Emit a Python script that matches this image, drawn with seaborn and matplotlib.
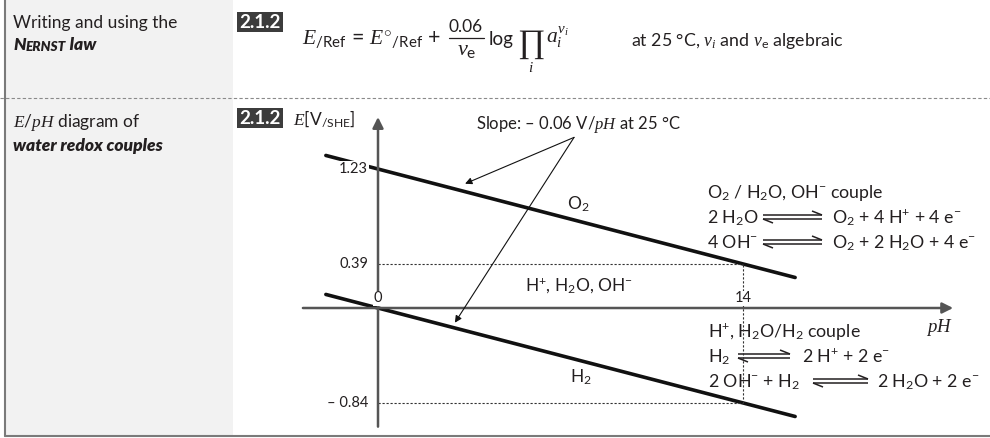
import matplotlib
matplotlib.use("Agg")
import matplotlib.pyplot as plt
from matplotlib.patches import Rectangle
import pandas as pd
import seaborn as sns

# values
ph_ends = [-2, 16]              # extent of both boundary lines
e_o2 = [1.35, 0.27]             # O2 / H2O line at pH -2 and pH 16
e_h2 = [0.12, -0.96]            # H+ / H2 line at pH -2 and pH 16
ph_ticks = [0, 14]
ph_tick_labels = ["0", "14"]
e_ticks = [1.23, 0.39, -0.84]
e_tick_labels = ["1.23", "0.39", "\u2013 0.84"]
ph_mark = 14
e_marks = [0.39, -0.84]         # the two lines at pH 14
slope_origin = (7.52, 1.51)
slope_targets = [(3.34, 1.10), (2.95, -0.13)]
axis_ph = (-2.88, 22.06)
axis_e = (-1.05, 1.69)

df = pd.DataFrame({
    "pH": ph_ends + ph_ends,
    "E": e_o2 + e_h2,
    "couple": ["O2"] * 2 + ["H2"] * 2,
})

sns.set_theme(style="white")
plt.rcParams["font.family"] = ["Lato", "DejaVu Sans"]
plt.rcParams["mathtext.fontset"] = "custom"
plt.rcParams["mathtext.rm"] = "Lato"
plt.rcParams["mathtext.it"] = "Liberation Serif:italic"
plt.rcParams["mathtext.bf"] = "Lato:bold"
plt.rcParams["mathtext.sf"] = "Lato"
plt.rcParams["text.color"] = "#231f20"
ink = "#231f20"

fig = plt.figure(figsize=(9.9, 4.38), dpi=100)

# page frame, in pixel units
bg = fig.add_axes([0, 0, 1, 1])
bg.set_xlim(0, 990)
bg.set_ylim(438, 0)
bg.axis("off")
bg.add_patch(Rectangle((5, 0), 228, 436, color="#f2f2f2", lw=0))
bg.plot([5, 5], [0, 436], color="#7a7a7a", lw=1.5)
bg.plot([5, 990], [436, 436], color="#7a7a7a", lw=1.5)
bg.plot([0, 990], [97.5, 97.5], color="#8a8a8a", lw=0.8, ls=(0, (3, 2)))

for y0 in (12, 108):
    bg.add_patch(Rectangle((237, y0), 46, 20, color="#3c3c3c", lw=0))
    bg.text(260, y0 + 10.5, "2.1.2", color="white", fontsize=13.5, fontweight="bold",
            ha="center", va="center")

# left column
bg.text(13, 28, "Writing and using the", fontsize=12.5, va="baseline")
t1 = bg.text(13, 50, "N", fontsize=12.5, fontweight="heavy", fontstyle="italic", va="baseline")
t2 = bg.annotate("ERNST", xy=(1, 0), xycoords=t1, fontsize=9.8, fontweight="heavy",
                 fontstyle="italic", va="bottom")
bg.annotate(" law", xy=(1, 0), xycoords=t2, fontsize=12.5, fontweight="heavy",
            fontstyle="italic", va="bottom")
bg.text(13, 127, "$E$/$pH$ diagram of", fontsize=12.5, va="baseline")
bg.text(13, 151, "water redox couples", fontsize=12.5, fontweight="heavy",
        fontstyle="italic", va="baseline")

# Nernst law
bg.text(302, 45, r"$E_{\mathrm{/Ref}}\,=\,E^{\circ}{}_{\mathrm{/Ref}}\,+$", fontsize=15.5, va="baseline")
bg.text(466, 32, "0.06", fontsize=12.5, ha="center", va="baseline")
bg.plot([449, 484], [38, 38], color=ink, lw=0.9)
bg.text(467, 55, r"$\nu_{\mathrm{e}}$", fontsize=16, ha="center", va="baseline")
bg.text(489, 45, "log", fontsize=13.5, va="baseline")
bg.text(531, 44, "\u220f", fontsize=24, family=["Liberation Serif", "DejaVu Serif"],
        ha="center", va="center")
bg.text(531, 68, "$i$", fontsize=11, ha="center", va="center")
bg.text(546, 43, r"$a_i^{\nu_i}$", fontsize=15.5, va="baseline")
bg.text(631, 46, r"at 25 °C, $\nu_i$ and $\nu_{\mathrm{e}}$ algebraic", fontsize=12.8, va="baseline")

# diagram annotations
bg.text(293, 125, r"$E$[V$_{/\mathrm{SHE}}$]", fontsize=12.5, va="baseline")
bg.text(578, 129, "Slope: \u2013 0.06 V/$pH$ at 25 °C", fontsize=12, ha="center", va="baseline")
bg.text(578, 210, "O$_2$", fontsize=12.5, ha="center", va="baseline")
bg.text(579, 292, "H$^{+}$, H$_2$O, OH$^{-}$", fontsize=12.5, ha="center", va="baseline")
bg.text(581, 383, "H$_2$", fontsize=12.5, ha="center", va="baseline")


def harpoon(x0, x1, yc):
    kw = dict(color=ink, lw=1.1, solid_capstyle="butt")
    bg.plot([x0, x1], [yc - 2, yc - 2], **kw)
    bg.plot([x1, x1 - 10], [yc - 2, yc - 6], **kw)
    bg.plot([x0, x1], [yc + 2, yc + 2], **kw)
    bg.plot([x0, x0 + 10], [yc + 2, yc + 6], **kw)


fs = 12.8
bg.text(707, 198, "O$_2$ / H$_2$O, OH$^{-}$ couple", fontsize=fs, va="baseline")
bg.text(707, 223, "2 H$_2$O", fontsize=fs, va="baseline")
harpoon(763, 822, 217)
bg.text(832, 223, "O$_2$ + 4 H$^{+}$ + 4 e$^{-}$", fontsize=fs, va="baseline")
bg.text(707, 248, "4 OH$^{-}$", fontsize=fs, va="baseline")
harpoon(763, 822, 242)
bg.text(832, 248, "O$_2$ + 2 H$_2$O + 4 e$^{-}$", fontsize=fs, va="baseline")

bg.text(708, 337, "H$^{+}$, H$_2$O/H$_2$ couple", fontsize=fs, va="baseline")
bg.text(708, 362, "H$_2$", fontsize=fs, va="baseline")
harpoon(738, 790, 356)
bg.text(802, 362, "2 H$^{+}$ + 2 e$^{-}$", fontsize=fs, va="baseline")
bg.text(708, 387, "2 OH$^{-}$ + H$_2$", fontsize=fs, va="baseline")
harpoon(813, 868, 381)
bg.text(877, 387, "2 H$_2$O + 2 e$^{-}$", fontsize=fs, va="baseline")

# the diagram itself, in pH / volt units
ax = fig.add_axes([0.30282, 0.01301, 0.67152, 0.73527])
ax.patch.set_alpha(0)
sns.lineplot(data=df, x="pH", y="E", hue="couple", palette=["#111111", "#111111"],
             lw=2.6, legend=False, sort=False, estimator=None, ax=ax)
ax.set_xlim(-3.0, 22.5)
ax.set_ylim(-1.1, 1.75)
ax.axis("off")

axis_kw = dict(arrowstyle="-|>", color="#555555", lw=1.8, mutation_scale=16,
               shrinkA=0, shrinkB=0)
ax.annotate("", xy=(axis_ph[1], 0), xytext=(axis_ph[0], 0), arrowprops=axis_kw)
ax.annotate("", xy=(0, axis_e[1]), xytext=(0, axis_e[0]), arrowprops=axis_kw)

guide = dict(colors="#333333", lw=0.8, linestyles=(0, (2, 1.6)))
ax.hlines(e_marks, 0, ph_mark, **guide)
ax.vlines(ph_mark, min(e_marks), max(e_marks), **guide)

for v, lab in zip(e_ticks, e_tick_labels):
    ax.text(-0.38, v, lab, fontsize=10.5, ha="right", va="center",
            bbox=dict(fc="white", ec="none", pad=0.6))
for p, lab in zip(ph_ticks, ph_tick_labels):
    ax.text(p, 0.085, lab, fontsize=10.5, ha="center", va="center",
            bbox=dict(fc="white", ec="none", pad=0.3))
ax.text(axis_ph[1], -0.17, "$pH$", fontsize=13.5, ha="right", va="center")

for tx, ty in slope_targets:
    ax.annotate("", xy=(tx, ty), xytext=slope_origin,
                arrowprops=dict(arrowstyle="-|>", color="#111111", lw=0.8,
                                mutation_scale=10, shrinkA=0, shrinkB=0))

fig.savefig("out.png", dpi=100)
